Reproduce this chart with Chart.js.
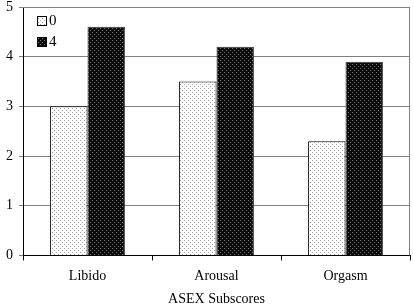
<!DOCTYPE html>
<html>
<head>
<meta charset="utf-8">
<script src="https://cdn.jsdelivr.net/npm/chart.js@4.4.0/dist/chart.umd.min.js"></script>
<style>
  html, body { margin: 0; padding: 0; background: #fff; }
  #wrap { width: 413px; height: 307px; }
</style>
</head>
<body>
<div id="wrap"><canvas id="asexChart"></canvas></div>
<script>
// données
const categories = ['Libido', 'Arousal', 'Orgasm'];
const seriesLabels = ['0', '4'];
const week0 = [3.0, 3.5, 2.3];
const week4 = [4.6, 4.2, 3.9];
const yTicks = [0, 1, 2, 3, 4, 5];

// motifs pointillés
function makePattern(bg, dot, step) {
    let c = document.createElement('canvas');
    c.width = step; c.height = step;
    let g = c.getContext('2d');
    g.fillStyle = bg;
    g.fillRect(0, 0, step, step);
    g.fillStyle = dot;
    g.fillRect(0, 0, 1, 1);
    g.fillRect(step / 2, step / 2, 1, 1);
    return g.createPattern(c, 'repeat');
}

let lightFill = makePattern('#ffffff', '#9a9a9a', 4);
let darkFill = makePattern('#0a0a0a', '#7a7a7a', 4);

// légende dans la zone du graphique + cadre
const innerLegend = {
    id: 'innerLegend',
    afterDraw(chart) {
        let ctx = chart.ctx;
        let area = chart.chartArea;
        ctx.save();
        ctx.strokeStyle = '#808080';
        ctx.lineWidth = 1;
        ctx.beginPath();
        ctx.moveTo(area.left, area.top + 0.5);
        ctx.lineTo(area.right - 0.5, area.top + 0.5);
        ctx.lineTo(area.right - 0.5, area.bottom);
        ctx.stroke();

        chart.data.datasets.forEach((ds, i) => {
            let x = area.left + 14;
            let y = area.top + 9 + i * 21;
            ctx.fillStyle = ds.backgroundColor;
            ctx.fillRect(x, y, 10, 10);
            ctx.strokeStyle = '#000';
            ctx.strokeRect(x + 0.5, y + 0.5, 9, 9);
            ctx.fillStyle = '#000';
            ctx.font = '15px "Liberation Serif", "DejaVu Serif", serif';
            ctx.textBaseline = 'middle';
            ctx.fillText(ds.label, x + 12, y + 5.5);
        });
        ctx.restore();
    }
};

let ctx = document.getElementById('asexChart').getContext('2d');
let asexChart = new Chart(ctx, {
    type: 'bar',
    data: {
        labels: categories,
        datasets: [{
            label: seriesLabels[0],
            data: week0,
            backgroundColor: lightFill,
            borderColor: '#000',
            borderWidth: 1
        }, {
            label: seriesLabels[1],
            data: week4,
            backgroundColor: darkFill,
            borderColor: '#333',
            borderWidth: 1
        }]
    },
    options: {
        responsive: true,
        maintainAspectRatio: false,
        animation: false,
        layout: { padding: { top: 0, right: 3, left: 0, bottom: -1 } },
        datasets: {
            bar: { categoryPercentage: 0.58, barPercentage: 1.0 }
        },
        plugins: {
            legend: { display: false },
            tooltip: { enabled: false }
        },
        scales: {
            x: {
                grid: {
                    offset: true,
                    drawOnChartArea: false,
                    tickLength: 5,
                    color: '#000'
                },
                border: { color: '#000' },
                ticks: {
                    color: '#000',
                    padding: 8,
                    font: { family: '"Liberation Serif", serif', size: 14 }
                },
                title: {
                    display: true,
                    text: 'ASEX Subscores',
                    color: '#000',
                    padding: { top: -2, bottom: 0 },
                    font: { family: '"Liberation Serif", serif', size: 14 }
                }
            },
            y: {
                min: 0,
                max: 5,
                afterBuildTicks(axis) {
                    axis.ticks = yTicks.map(v => ({ value: v }));
                },
                afterFit(axis) {
                    axis.paddingTop = 7;
                },
                grid: {
                    color: '#808080',
                    tickLength: 4
                },
                border: { color: '#000' },
                ticks: {
                    color: '#000',
                    padding: 6,
                    font: { family: '"Liberation Serif", serif', size: 14 }
                }
            }
        }
    },
    plugins: [innerLegend]
});
</script>
</body>
</html>
